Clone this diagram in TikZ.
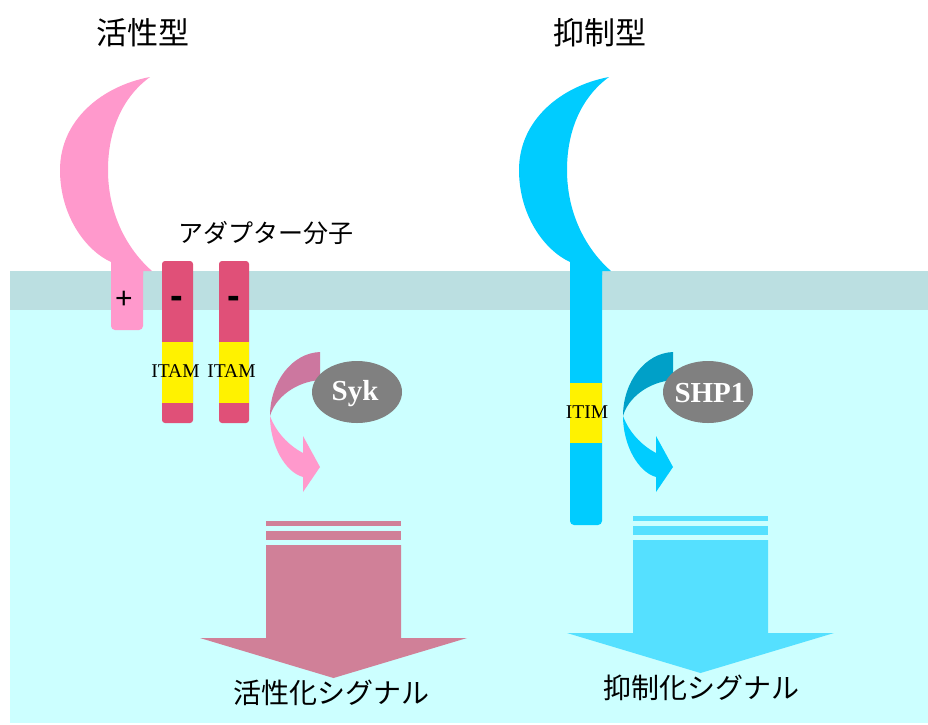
\documentclass[tikz,border=0pt]{standalone}
\usepackage{fontspec}
\setmainfont{Liberation Serif}
\newfontfamily\jpfont{Noto Sans CJK JP}
\newfontfamily\signfont{Liberation Sans}
\usetikzlibrary{shapes.geometric}

\definecolor{membrane}{HTML}{BBDFE1}
\definecolor{cytosol}{HTML}{CCFFFF}
\definecolor{actpink}{HTML}{FF99CC}
\definecolor{inhblue}{HTML}{00CCFF}
\definecolor{adaptor}{HTML}{E05078}
\definecolor{sykdark}{HTML}{CC779F}
\definecolor{shpdark}{HTML}{00A0C8}
\definecolor{bigpink}{HTML}{D08098}
\definecolor{bigblue}{HTML}{55E0FF}
\definecolor{enzyme}{HTML}{808080}

\tikzset{
  % receptor: crescent head plus transmembrane stem; #1 colour, #2 stem bottom
  pics/receptor/.style 2 args={code={
    \fill[#1, rounded corners=4] (111,265) rectangle (143,#2);
    \fill[#1] (150,77) .. controls (102,86) and (60,120) .. (60,170)
      .. controls (60,215) and (85,250) .. (111,262) -- (111,275) -- (143,275)
      -- (143,271) -- (152,271)
      .. controls (128,250) and (108,215) .. (108,170)
      .. controls (108,128) and (124,96) .. (150,77) -- cycle;
  }},
  % curled arrow from an enzyme: #1 upper colour, #2 lower colour
  pics/curl/.style 2 args={code={
    \fill[#1] (320,352) .. controls (292,353) and (270,382) .. (270,416)
      .. controls (275,398) and (295,382) .. (320,380) -- cycle;
    \fill[#2] (270,416) .. controls (270,445) and (285,472) .. (303,477)
      -- (303,492) -- (320,467) -- (303,436) -- (303,453)
      .. controls (288,445) and (276,432) .. (270,416) -- cycle;
  }},
  % broad signal arrow with two stripes on top
  pics/bigarrow/.style={code={
    \fill[#1] (-67.5,0) rectangle (67.5,5);
    \fill[#1] (-67.5,10) rectangle (67.5,19);
    \fill[#1] (-67.5,24) -- (67.5,24) -- (67.5,117) -- (133.5,117)
      -- (0,157) -- (-133.5,117) -- (-67.5,117) -- cycle;
  }},
  adaptbar/.style={fill=adaptor, rounded corners=3},
  motif/.style={fill=yellow},
  motiflabel/.style={font=\fontsize{19.5}{21}\selectfont, text=black, inner sep=0, anchor=base},
  enzymenode/.style={ellipse, fill=enzyme, minimum width=90pt, minimum height=62pt, inner sep=0},
  enzymelabel/.style={font=\fontsize{29}{32}\selectfont\bfseries, text=white, inner sep=0, anchor=base},
  title/.style={font=\jpfont\fontsize{31}{34}\selectfont, inner sep=0},
  jplabel/.style={font=\jpfont\fontsize{#1}{#1}\selectfont, inner sep=0},
  charge/.style={inner sep=0, anchor=base, text=black},
}

\begin{document}
\begin{tikzpicture}[x=1pt, y=-1pt]
  \useasboundingbox (0,0) rectangle (928,724);
  \fill[white] (0,0) rectangle (928,724);

  % cell interior and membrane
  \fill[cytosol] (10,310) rectangle (928,723);
  \fill[membrane] (10,271) rectangle (928,310);

  % receptors
  \pic at (0,0) {receptor={actpink}{330}};
  \pic at (459,0) {receptor={inhblue}{525}};

  % adaptor molecules with ITAM motifs
  \fill[adaptbar] (162,261) rectangle (193,423);
  \fill[adaptbar] (219,261) rectangle (249,423);
  \fill[motif] (162,342) rectangle (193,403);
  \fill[motif] (219,342) rectangle (249,403);

  % ITIM motif
  \fill[motif] (570,383) rectangle (602,443);

  % charges
  \node[charge, font=\signfont\fontsize{30}{30}\selectfont] (plus) at (124,308) {+};
  \node[charge, font=\signfont\bfseries\fontsize{38}{38}\selectfont] (minusA) at (177,308.5) {-};
  \node[charge, font=\signfont\bfseries\fontsize{38}{38}\selectfont] (minusB) at (234,308.5) {-};

  % motif labels
  \node[motiflabel] (itamA) at (175.5,377) {ITAM};
  \node[motiflabel] (itamB) at (231.5,377) {ITAM};
  \node[motiflabel] (itim) at (587,418) {ITIM};

  % curled arrows and enzymes
  \pic at (0,0) {curl={sykdark}{actpink}};
  \pic at (353,0) {curl={shpdark}{inhblue}};
  \node[enzymenode] (syk) at (357,392) {};
  \node[enzymelabel] (syklabel) at (355,400) {Syk};
  \node[enzymenode] (shp) at (708,392) {};
  \node[enzymelabel] (shplabel) at (710,402) {SHP1};

  % downstream signal arrows
  \pic at (333.5,521) {bigarrow=bigpink};
  \pic at (700.5,516) {bigarrow=bigblue};

  % labels
  \node[title] (acttitle) at (143,33) {活性型};
  \node[title] (inhtitle) at (600,33) {抑制型};
  \node[jplabel=25] (adaptlabel) at (266,233) {アダプター分子};
  \node[jplabel=28] (actsignal) at (331,693) {活性化シグナル};
  \node[jplabel=28] (inhsignal) at (701,688) {抑制化シグナル};
\end{tikzpicture}
\end{document}
